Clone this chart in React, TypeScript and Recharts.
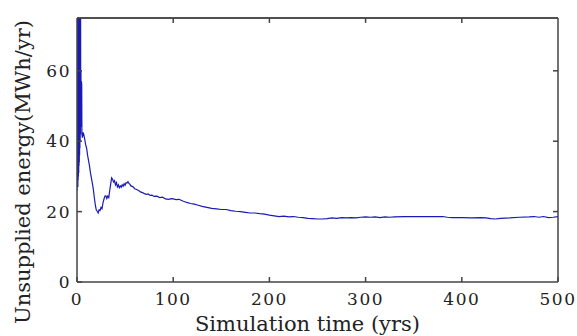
import React from 'react';
import { LineChart, Line, XAxis, YAxis, Label, ReferenceLine, CartesianGrid } from 'recharts';

const simYears = [
  0, 0.15, 0.3, 0.45, 0.6, 0.75, 0.9, 1.05, 1.2, 1.35, 1.5, 1.65, 1.8, 1.95, 2.1, 2.25, 2.4, 2.55, 2.7, 2.85,
  3.0, 3.15, 3.3, 3.45, 3.6, 3.75, 3.9, 4.1, 4.3, 4.6, 4.9, 5.1, 5.6, 6.3, 7, 8, 9, 10, 11, 12,
  13, 14, 15, 16, 17, 18, 19, 20, 21, 22, 23, 24, 25, 26, 27, 28, 29, 30, 31, 32,
  33, 34, 35, 36, 37, 38, 39, 40, 41, 42, 43, 44, 45, 46, 47, 48, 49, 50, 51, 52,
  53, 54, 55, 56, 58, 60, 62, 64, 66, 68, 70, 72, 74, 76, 78, 80, 83, 86, 89, 92,
  95, 98, 100, 103, 106, 110, 114, 118, 122, 126, 130, 135, 140, 145, 150, 155, 160, 165, 170, 175,
  180, 185, 190, 195, 200, 205, 210, 215, 220, 225, 230, 235, 240, 245, 250, 255, 260, 265, 270, 275,
  280, 285, 290, 295, 300, 305, 310, 315, 320, 325, 330, 340, 350, 360, 370, 380, 385, 390, 400, 410,
  420, 425, 430, 435, 440, 450, 460, 470, 475, 480, 485, 490, 495, 500,
];

const unsuppliedEnergy = [
  26, 110, 27, 105, 28, 100, 27, 98, 29, 95, 30, 92, 31, 90, 33, 88, 34, 85, 36, 82,
  38, 80, 40, 78, 42, 76, 45, 60, 44, 57, 56, 42, 41, 42.5, 42, 40.6, 39, 38, 36, 34.5,
  33, 31, 29.5, 28, 26.3, 24, 22, 20.5, 20.1, 19.6, 20.5, 20.3, 21.2, 20.8, 22.5, 23.5, 24.4, 24.5, 23.7, 24.4,
  24, 26, 27.8, 29.6, 29.2, 28.4, 28.8, 27.6, 28.2, 27.0, 27.6, 26.8, 27.3, 26.9, 27.6, 27.2, 27.9, 27.5, 28.2, 28.1,
  28.5, 28.0, 27.8, 27.3, 27.1, 26.5, 26.3, 26.0, 25.6, 25.4, 25.1, 24.9, 25.0, 24.6, 24.7, 24.3, 24.4, 24.0, 24.1, 23.6,
  23.5, 23.7, 23.6, 23.4, 23.5, 23.0, 22.6, 22.3, 22.1, 21.8, 21.5, 21.2, 20.9, 20.8, 20.6, 20.6, 20.3, 20.1, 20.0, 19.8,
  19.6, 19.6, 19.4, 19.3, 19.0, 18.8, 18.6, 18.7, 18.5, 18.6, 18.4, 18.3, 18.1, 18.0, 17.9, 17.9, 18.0, 18.2, 18.1, 18.3,
  18.2, 18.3, 18.2, 18.4, 18.5, 18.4, 18.5, 18.3, 18.5, 18.4, 18.5, 18.6, 18.6, 18.6, 18.6, 18.6, 18.4, 18.3, 18.3, 18.2,
  18.3, 18.2, 18.0, 17.9, 18.1, 18.2, 18.4, 18.5, 18.6, 18.4, 18.6, 18.3, 18.4, 18.6,
];

const xTicks = [0, 100, 200, 300, 400, 500];
const yTicks = [0, 20, 40, 60];
const xMax = 500;
const yMax = 75;

const data = simYears.map((x, i) => ({ x, y: unsuppliedEnergy[i] }));

const tickFont = { fontFamily: 'DejaVu Serif', fontSize: 17, letterSpacing: 1.5, fill: '#222' };
const xLabelFont = { fontFamily: 'DejaVu Serif', fontSize: 21, fill: '#222' };
const yLabelFont = { fontFamily: 'DejaVu Serif', fontSize: 21, fill: '#222' };
const axisColor = '#444';

// inner tick length expressed in data units (~5px)
const xTickLen = 5.2;
const yTickLen = 1.4;

export default function App() {
  return (
    <div style={{ position: 'absolute', left: 0, top: 0, width: 577, height: 336, background: '#fff', overflow: 'hidden' }}>
      <LineChart width={577} height={336} data={data} margin={{ top: 18, right: 19, bottom: 0, left: 0 }}>
        <CartesianGrid horizontal vertical={false} horizontalValues={[yMax]} stroke={axisColor} strokeWidth={1.5} />
        <XAxis
          dataKey="x"
          type="number"
          domain={[0, xMax]}
          ticks={xTicks}
          allowDataOverflow
          height={54}
          tickSize={-5}
          tickMargin={16}
          stroke={axisColor}
          strokeWidth={1.5}
          tick={tickFont}
        >
          <Label value="Simulation time (yrs)" position="center" dx={-10} dy={15} style={xLabelFont} />
        </XAxis>
        <YAxis
          type="number"
          domain={[0, yMax]}
          ticks={yTicks}
          allowDataOverflow
          width={77}
          tickSize={-5}
          tickMargin={11}
          stroke={axisColor}
          strokeWidth={1.5}
          tick={tickFont}
        >
          <Label value="Unsupplied energy(MWh/yr)" angle={-90} position="center" dx={-16} dy={22} style={{ ...yLabelFont, textAnchor: 'middle' }} />
        </YAxis>
        <Line
          type="linear"
          dataKey="y"
          stroke="#1a1ab4"
          strokeWidth={1.2}
          dot={false}
          isAnimationActive={false}
        />
        <ReferenceLine y={yMax} stroke={axisColor} strokeWidth={1.5} ifOverflow="extendDomain" isFront />
        <ReferenceLine x={xMax} stroke={axisColor} strokeWidth={1.5} ifOverflow="visible" />
        {xTicks.slice(1, -1).map((t) => (
          <ReferenceLine
            key={`tx${t}`}
            segment={[{ x: t, y: yMax }, { x: t, y: yMax - yTickLen }]}
            stroke={axisColor}
            strokeWidth={1.5}
            ifOverflow="extendDomain"
            isFront
          />
        ))}
        {yTicks.slice(1).map((t) => (
          <ReferenceLine
            key={`ty${t}`}
            segment={[{ x: xMax, y: t }, { x: xMax - xTickLen, y: t }]}
            stroke={axisColor}
            strokeWidth={1.5}
            ifOverflow="visible"
          />
        ))}
      </LineChart>
    </div>
  );
}
